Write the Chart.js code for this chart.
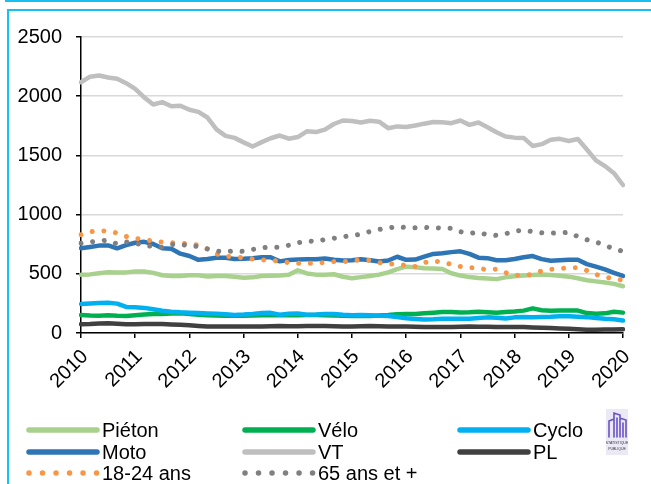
<!DOCTYPE html>
<html><head><meta charset="utf-8">
<script src="https://cdn.jsdelivr.net/npm/chart.js@4"></script>
<style>
html,body{margin:0;padding:0;background:#fff;width:651px;height:484px;overflow:hidden;position:relative}
.f1{position:absolute;box-sizing:border-box;left:5px;top:-30px;width:700px;height:32px;border:2px solid #17C0F0;}
.f2{position:absolute;box-sizing:border-box;left:7px;top:9px;width:700px;height:600px;border:2px solid #17C0F0;}
canvas{position:absolute;left:0;top:0}
</style></head>
<body><div class="f1"></div><div class="f2"></div><canvas id="c" width="651" height="484"></canvas>
<script>
const categories = ['2010-01','2010-03','2010-05','2010-07','2010-09','2010-11',
'2011-01','2011-03','2011-05','2011-07','2011-09','2011-11',
'2012-01','2012-03','2012-05','2012-07','2012-09','2012-11',
'2013-01','2013-03','2013-05','2013-07','2013-09','2013-11',
'2014-01','2014-03','2014-05','2014-07','2014-09','2014-11',
'2015-01','2015-03','2015-05','2015-07','2015-09','2015-11',
'2016-01','2016-03','2016-05','2016-07','2016-09','2016-11',
'2017-01','2017-03','2017-05','2017-07','2017-09','2017-11',
'2018-01','2018-03','2018-05','2018-07','2018-09','2018-11',
'2019-01','2019-03','2019-05','2019-07','2019-09','2019-11',
'2020-01'];
const seriesNames = ['Piéton','Vélo','Cyclo','Moto','VT','PL','18-24 ans','65 ans et +'];
const pieton = [491,495,505,513,511,512,520,520,508,488,482,482,488,487,477,482,482,476,467,470,482,484,486,491,530,503,493,493,496,475,463,472,482,493,512,540,560,556,546,545,540,505,485,472,465,460,455,470,480,485,490,495,490,484,476,462,446,436,427,415,395];
const velo = [152,148,146,150,146,144,150,156,161,161,164,166,160,155,150,148,146,145,145,148,150,150,150,150,150,152,152,150,148,145,144,144,144,148,152,158,161,161,166,172,178,178,174,175,180,176,172,178,182,189,208,192,188,189,189,189,168,162,166,180,172];
const cyclo = [245,250,254,256,248,220,217,212,200,188,180,175,172,168,165,162,158,153,156,161,168,170,154,162,164,155,156,161,160,154,150,152,150,146,144,135,124,119,114,116,121,121,121,121,126,132,128,122,132,136,133,136,138,142,141,137,134,126,120,116,105];
const moto = [716,727,738,740,715,742,762,770,752,716,712,670,650,618,625,635,636,625,627,632,640,640,605,616,620,622,622,630,618,612,615,622,615,604,612,644,618,620,645,668,674,683,690,668,636,632,614,614,625,640,650,624,610,615,618,618,582,560,538,508,482];
const vt = [2118,2165,2175,2158,2148,2110,2062,1990,1930,1950,1915,1920,1885,1868,1820,1720,1665,1648,1610,1575,1612,1645,1668,1641,1655,1703,1697,1718,1765,1795,1790,1778,1793,1785,1730,1745,1740,1752,1768,1782,1780,1772,1795,1758,1778,1738,1695,1660,1650,1648,1580,1595,1632,1640,1622,1638,1550,1458,1410,1350,1250];
const pl = [74,76,80,82,78,74,74,75,76,75,72,70,66,60,55,54,54,54,54,54,55,57,59,58,58,59,59,59,58,55,54,56,59,57,55,55,54,52,51,51,51,51,53,54,53,52,51,51,50,50,47,44,42,38,35,32,28,28,29,30,31];
const age1824 = [830,855,865,860,845,815,800,788,776,768,762,759,752,742,710,668,646,645,635,625,618,616,606,594,588,590,590,596,603,603,608,618,615,594,585,578,572,562,595,610,598,580,562,554,545,535,540,510,488,486,496,524,538,544,549,552,528,495,472,458,445];
const age65 = [758,768,780,782,752,770,758,742,729,724,748,750,736,731,710,692,686,694,689,705,720,725,725,741,762,777,773,789,800,812,825,833,858,875,885,900,889,889,892,890,885,885,855,842,850,829,825,838,860,870,855,846,843,845,850,815,788,768,741,710,690];
const yTicks = [0,500,1000,1500,2000,2500];

const values = [pieton, velo, cyclo, moto, vt, pl, age1824, age65];
const colors = ['#A9D18E','#00B050','#00B0F0','#2E75B6','#BFBFBF','#404040','#F79646','#808080'];
const dotted = [false,false,false,false,false,false,true,true];
const FONT = 'Liberation Sans, Arial, sans-serif';

const datasets = values.map((v,i)=>({
  label: seriesNames[i],
  data: v,
  borderColor: colors[i],
  backgroundColor: colors[i],
  borderWidth: dotted[i] ? 5 : 4.5,
  borderDash: dotted[i] ? [0.01, 11.7] : [],
  borderCapStyle: 'round',
  borderJoinStyle: 'round',
  pointRadius: 0,
  tension: 0,
  fill: false,
  order: values.length - i
}));

const legendPlugin = {
  id: 'customLegend',
  afterDraw(chart){
    const ctx = chart.ctx;
    const colX = [27, 243, 458];
    const rowY = [430, 452, 473];
    ctx.save();
    chart.data.datasets.forEach((ds,i)=>{
      const x0 = colX[i%3], y = rowY[Math.floor(i/3)];
      ctx.beginPath();
      ctx.strokeStyle = ds.borderColor;
      ctx.lineWidth = 5.5;
      ctx.lineCap = 'round';
      ctx.setLineDash(ds.borderDash.length ? [0.01, 13.5] : []);
      ctx.moveTo(x0+2, y); ctx.lineTo(x0+70, y);
      ctx.stroke();
      ctx.setLineDash([]);
      ctx.fillStyle = '#000';
      ctx.font = '20px ' + FONT;
      ctx.textBaseline = 'middle';
      ctx.textAlign = 'left';
      ctx.fillText(ds.label, x0+75, y+1);
    });
    // logo
    ctx.fillStyle = '#ECE9F7';
    ctx.fillRect(606, 409, 22, 46);
    ctx.strokeStyle = '#6B52C2';
    ctx.lineWidth = 1.6;
    ctx.beginPath();
    ctx.moveTo(609,437); ctx.lineTo(609,421); ctx.lineTo(614,419); ctx.lineTo(614,437);
    ctx.moveTo(614,437); ctx.lineTo(614,413); ctx.lineTo(620,415); ctx.lineTo(620,437);
    ctx.moveTo(620,437); ctx.lineTo(620,418); ctx.lineTo(626,420); ctx.lineTo(626,437);
    ctx.moveTo(617,418); ctx.lineTo(617,437);
    ctx.moveTo(623,423); ctx.lineTo(623,437);
    ctx.stroke();
    ctx.fillStyle = '#333';
    ctx.font = '3.5px ' + FONT;
    ctx.textAlign = 'center';
    ctx.fillText('STATISTIQUE', 617, 443);
    ctx.fillText('PUBLIQUE', 617, 449);
    ctx.restore();
  }
};

new Chart(document.getElementById('c'), {
  type: 'line',
  data: { labels: categories, datasets },
  options: {
    responsive: false,
    animation: false,
    devicePixelRatio: 1,
    layout: { padding: { left: 0, right: 28, top: 37, bottom: 0 } },
    plugins: { legend: { display: false }, tooltip: { enabled: false } },
    scales: {
      x: {
        type: 'category',
        grid: { display: true, drawOnChartArea: false, drawTicks: true, tickLength: 5, tickColor: '#000', lineWidth: 1.5 },
        border: { display: true, color: '#000', width: 1.5 },
        ticks: {
          autoSkip: false, maxRotation: 45, minRotation: 45, color: '#000', padding: 7, labelOffset: 4,
          font: { family: FONT, size: 20 },
          callback: function(v, i){ const l = categories[i]; return l.endsWith('-01') ? l.slice(0,4) : null; }
        },
        afterFit(s){ s.height = 151; }
      },
      y: {
        min: 0, max: 2500,
        afterBuildTicks(s){ s.ticks = yTicks.map(v=>({value:v})); },
        grid: { color: '#D9D9D9', lineWidth: 1.5, tickColor: '#000', tickLength: 5 },
        border: { color: '#000', width: 1.5 },
        ticks: { color: '#000', padding: 14, font: { family: FONT, size: 20 }, callback: v => String(v) },
        afterFit(s){ s.width = 81; }
      }
    }
  },
  plugins: [legendPlugin]
});
</script>
</body></html>
